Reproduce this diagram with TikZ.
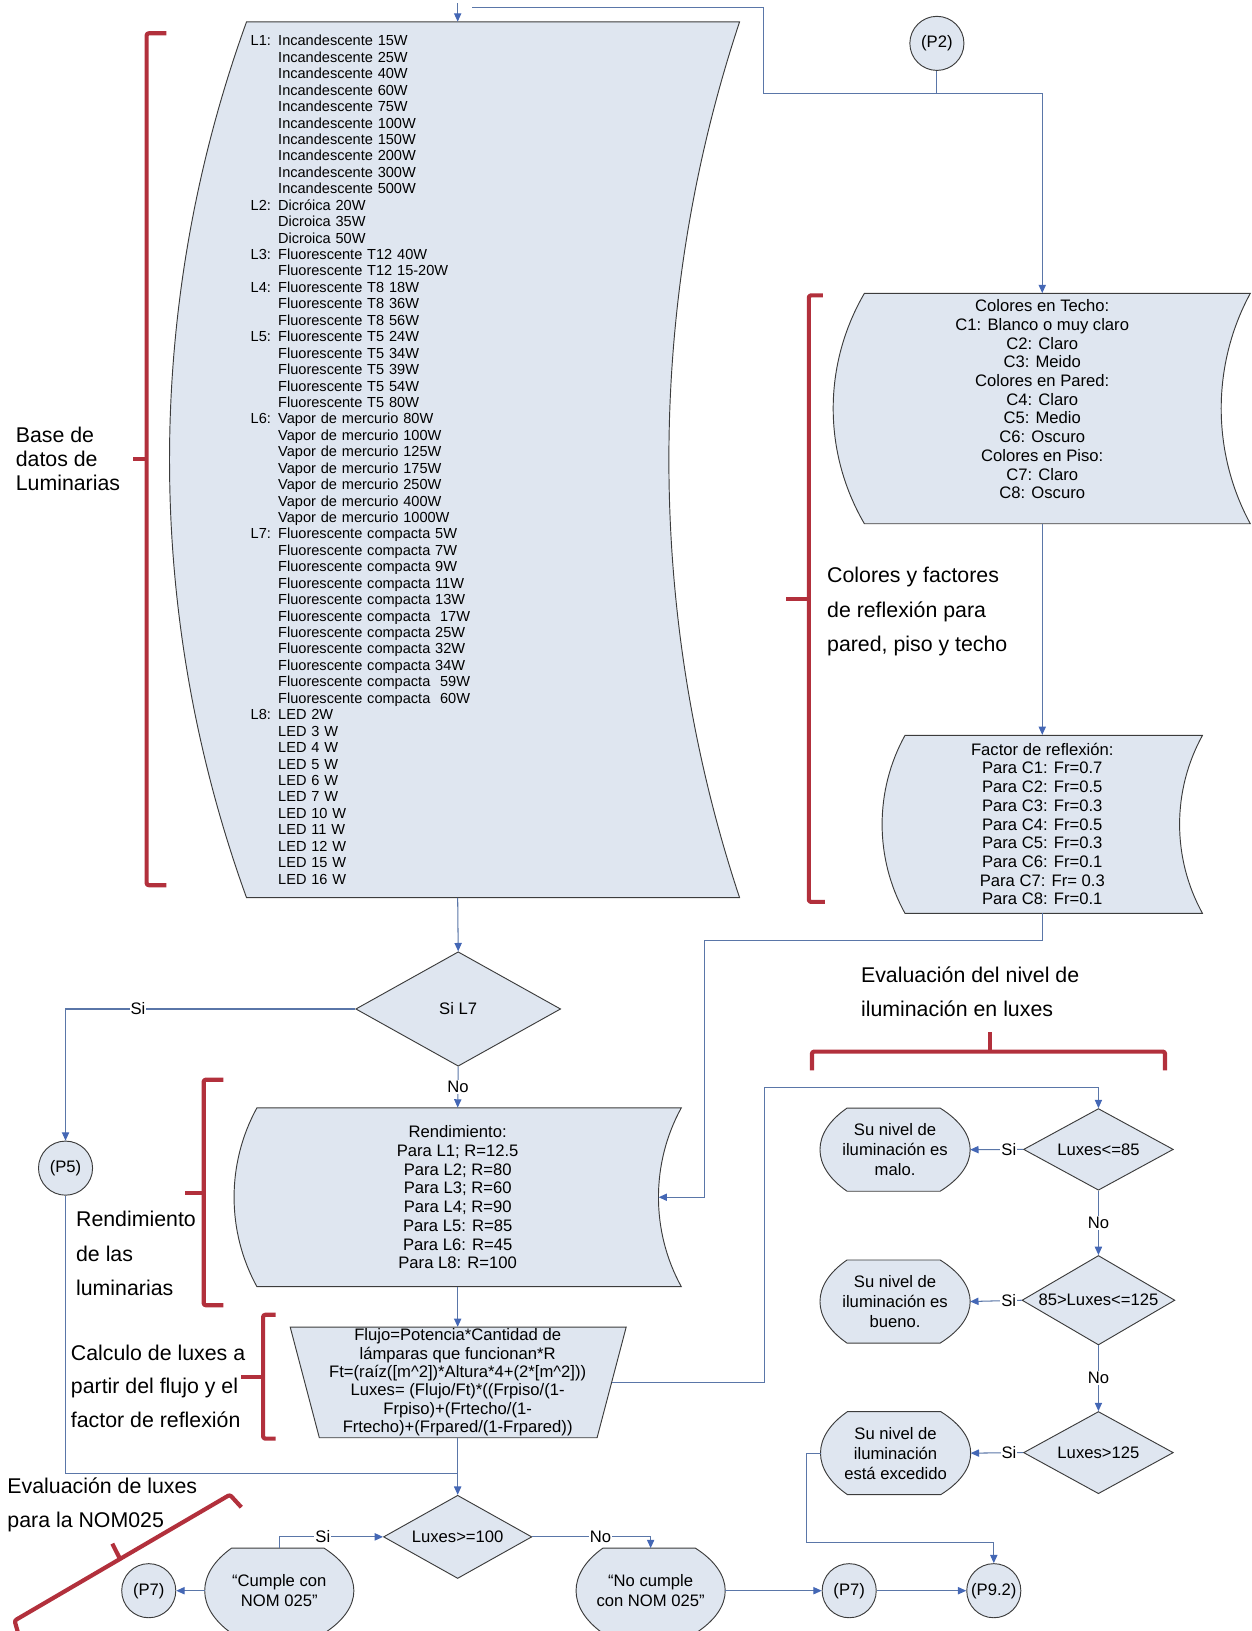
\documentclass[tikz,border=0pt]{standalone}
\usepackage{fontspec}
\setmainfont{Liberation Sans}
\usetikzlibrary{arrows.meta, shapes.geometric, calc, backgrounds}
\definecolor{boxfill}{HTML}{DFE6F0}
\definecolor{boxline}{HTML}{3C3C3C}
\definecolor{linkblue}{HTML}{5A76A8}
\definecolor{tipblue}{HTML}{4467B5}
\definecolor{brred}{HTML}{B2303C}

\newcommand{\lmpind}{\hphantom{L1: }}
% display outline round a named node, behind it
\newcommand{\dispshape}[1]{%
  \begin{pgfonlayer}{background}
  \draw[box] let \p1=(#1.north west), \p2=(#1.south east) in
    ({\x1+0.18*(\x2-\x1)},\y1) -- ({\x2-0.2*(\x2-\x1)},\y1)
    .. controls ({\x2+0.0667*(\x2-\x1)},{\y1+0.3*(\y2-\y1)}) and ({\x2+0.0667*(\x2-\x1)},{\y2-0.3*(\y2-\y1)}) .. ({\x2-0.2*(\x2-\x1)},\y2)
    -- ({\x1+0.18*(\x2-\x1)},\y2)
    .. controls ({\x1-0.06*(\x2-\x1)},{\y2-0.3*(\y2-\y1)}) and ({\x1-0.06*(\x2-\x1)},{\y1+0.3*(\y2-\y1)}) .. ({\x1+0.18*(\x2-\x1)},\y1) -- cycle;
  \end{pgfonlayer}}

\begin{document}
\begin{tikzpicture}[x=1pt, y=-1pt,
  box/.style={fill=boxfill, draw=boxline, line width=0.9pt},
  link/.style={draw=linkblue, line width=1pt},
  arr/.style={link, -{Triangle[length=8pt, width=7pt, color=tipblue]}},
  lbl/.style={fill=white, inner sep=1pt, font=\fontsize{16}{18}\selectfont},
  txt/.style={align=center, inner sep=0pt, font=\fontsize{16}{18}\selectfont},
  disp/.style={txt, font=\fontsize{16}{19.2}\selectfont, minimum width=144pt, minimum height=79.5pt},
  dec/.style={diamond, box, aspect=1.7, inner sep=0pt, font=\fontsize{16}{18}\selectfont},
  conn/.style={circle, box, minimum size=52pt, inner sep=0pt, font=\fontsize{16}{18}\selectfont},
  brace/.style={draw=brred, line width=4pt, rounded corners=2pt, line join=round},
  note/.style={align=left, anchor=west, inner sep=0pt},
]

% Page size
\useasboundingbox (0,0) rectangle (1203,1568);

% --- Bent boxes ---
\draw[box] (237,21) -- (711,21) .. controls (620.4,294) and (620.4,590) .. (711,863)
  -- (237,863) .. controls (138.3,590) and (138.3,294) .. (237,21) -- cycle;
\draw[box] (831,282) -- (1202,282) .. controls (1164.7,350.7) and (1164.7,434.8) .. (1202,503.5)
  -- (831,503.5) .. controls (791,434.8) and (791,350.7) .. (831,282) -- cycle;
\draw[box] (870,707) -- (1156,707) .. controls (1126.7,760) and (1126.7,825) .. (1156,878)
  -- (870,878) .. controls (840.7,825) and (840.7,760) .. (870,707) -- cycle;
\draw[box] (247,1065) -- (655,1065) .. controls (625.7,1118.3) and (625.7,1183.7) .. (655,1237)
  -- (247,1237) .. controls (217.7,1183.7) and (217.7,1118.3) .. (247,1065) -- cycle;
\draw[box] (279,1275.8) -- (602,1275.8) -- (574,1382.2) -- (307,1382.2) -- cycle;

% --- Lamp database ---
\node[txt, font=\fontsize{14}{15.8}\selectfont, align=left, text width=398pt, inner xsep=4pt, minimum height=842pt] (db) at (440,442) {%
L1: Incandescente 15W\\
\lmpind Incandescente 25W\\
\lmpind Incandescente 40W\\
\lmpind Incandescente 60W\\
\lmpind Incandescente 75W\\
\lmpind Incandescente 100W\\
\lmpind Incandescente 150W\\
\lmpind Incandescente 200W\\
\lmpind Incandescente 300W\\
\lmpind Incandescente 500W\\
L2: Dicróica 20W\\
\lmpind Dicroica 35W\\
\lmpind Dicroica 50W\\
L3: Fluorescente T12 40W\\
\lmpind Fluorescente T12 15-20W\\
L4: Fluorescente T8 18W\\
\lmpind Fluorescente T8 36W\\
\lmpind Fluorescente T8 56W\\
L5: Fluorescente T5 24W\\
\lmpind Fluorescente T5 34W\\
\lmpind Fluorescente T5 39W\\
\lmpind Fluorescente T5 54W\\
\lmpind Fluorescente T5 80W\\
L6: Vapor de mercurio 80W\\
\lmpind Vapor de mercurio 100W\\
\lmpind Vapor de mercurio 125W\\
\lmpind Vapor de mercurio 175W\\
\lmpind Vapor de mercurio 250W\\
\lmpind Vapor de mercurio 400W\\
\lmpind Vapor de mercurio 1000W\\
L7: Fluorescente compacta 5W\\
\lmpind Fluorescente compacta 7W\\
\lmpind Fluorescente compacta 9W\\
\lmpind Fluorescente compacta 11W\\
\lmpind Fluorescente compacta 13W\\
\lmpind Fluorescente compacta\ \ 17W\\
\lmpind Fluorescente compacta 25W\\
\lmpind Fluorescente compacta 32W\\
\lmpind Fluorescente compacta 34W\\
\lmpind Fluorescente compacta\ \ 59W\\
\lmpind Fluorescente compacta\ \ 60W\\
L8: LED 2W\\
\lmpind LED 3 W\\
\lmpind LED 4 W\\
\lmpind LED 5 W\\
\lmpind LED 6 W\\
\lmpind LED 7 W\\
\lmpind LED 10 W\\
\lmpind LED 11 W\\
\lmpind LED 12 W\\
\lmpind LED 15 W\\
\lmpind LED 16 W};

% --- Colours and reflection ---
\node[conn] (p2) at (900.7,41.7) {(P2)};
\node[txt, minimum width=342pt, minimum height=221.5pt] (col) at (1002,392.75) {Colores en Techo:\\C1: Blanco o muy claro\\C2: Claro\\C3: Meido\\Colores en Pared:\\C4: Claro\\C5: Medio\\C6: Oscuro\\Colores en Piso:\\C7: Claro\\C8: Oscuro\\\mbox{}};
\node[txt, minimum width=260pt, minimum height=171pt] (fac) at (1002,792.2) {Factor de reflexión:\\Para C1: Fr=0.7\\Para C2: Fr=0.5\\Para C3: Fr=0.3\\Para C4: Fr=0.5\\Para C5: Fr=0.3\\Para C6: Fr=0.1\\Para C7: Fr= 0.3\\Para C8: Fr=0.1};

% --- Left column ---
\node[dec, minimum width=197pt, minimum height=110pt] (sil7) at (440.5,970) {Si L7};
\node[conn] (p5) at (63,1123) {(P5)};
\node[txt, minimum width=386pt, minimum height=172pt] (rend) at (440,1151) {Rendimiento:\\Para L1; R=12.5\\Para L2; R=80\\Para L3; R=60\\Para L4; R=90\\Para L5: R=85\\Para L6: R=45\\Para L8: R=100};
\node[txt, font=\fontsize{16}{17.7}\selectfont, minimum width=296pt, minimum height=106.4pt] (flujo) at (440,1329) {Flujo=Potencia*Cantidad de\\lámparas que funcionan*R\\Ft=(raíz([m\textasciicircum2])*Altura*4+(2*[m\textasciicircum2]))\\Luxes= (Flujo/Ft)*((Frpiso/(1-\\Frpiso)+(Frtecho/(1-\\Frtecho)+(Frpared/(1-Frpared))};
\node[dec, minimum width=142.6pt, minimum height=80pt] (lx100) at (440,1477.5) {Luxes>=100};
\node[disp, minimum width=143pt, minimum height=81.5pt] (cumple) at (268.5,1529.25) {“Cumple con\\NOM 025”};
\node[disp, minimum width=143pt, minimum height=81.5pt] (nocumple) at (625.5,1529.25) {“No cumple\\con NOM 025”};
\node[conn] (p7a) at (143,1529.25) {(P7)};
\node[conn] (p7b) at (816.4,1529.25) {(P7)};
\node[conn] (p92) at (955.4,1529.25) {(P9.2)};

% --- Lux level checks ---
\node[dec, minimum width=144pt, minimum height=78.5pt] (lx85) at (1056,1105) {Luxes<=85};
\node[dec, minimum width=147pt, minimum height=86pt] (lx125) at (1056,1250) {85>Luxes<=125};
\node[dec, minimum width=144pt, minimum height=79pt] (lxmax) at (1056,1396.5) {Luxes>125};
\node[disp] (malo) at (860.5,1105.25) {Su nivel de\\iluminación es\\malo.};
\node[disp] (bueno) at (860.5,1251.25) {Su nivel de\\iluminación es\\bueno.};
\node[disp] (exced) at (861,1397) {Su nivel de\\iluminación\\está excedido};

\dispshape{cumple}
\dispshape{nocumple}
\dispshape{malo}
\dispshape{bueno}
\dispshape{exced}

% --- Connectors ---
\coordinate (dbin) at (440,3);
\coordinate (topin) at (454,7);
\coordinate (elb) at (734,89.7);
\coordinate (fr) at (677,904);
\coordinate (fl) at (735.4,1045.5);
\coordinate (jp) at (440,1417);
\coordinate (ex) at (775,1483);

\draw[arr] (dbin) -- (db.north);
\draw[arr] (topin) -| (elb) -| (col.north);
\draw[link] (p2.south) -- (p2.south |- elb);
\draw[arr] (col.south) -- (fac.north);
\draw[arr] (db.south) -- (sil7.north);
\draw[arr] (sil7.west) -| node[lbl, pos=0.375] (sia) {Si} (p5.north);
\draw[arr] (sil7.south) -- node[lbl] (noa) {No} (rend.north);
\draw[arr] (fac.south) |- (fr) |- (rend.east);
\draw[arr] (rend.south) -- (flujo.north);
\draw[arr] (flujo.east) -| (fl) -| (lx85.north);
\draw[link] (p5.south) |- (jp);
\draw[arr] (flujo.south) -- (lx100.north);
\draw[arr] (cumple.north) |- node[lbl, pos=0.71] (sib) {Si} (lx100.west);
\draw[arr] (lx100.east) -| node[lbl, pos=0.288] (nob) {No} (nocumple.north);
\draw[arr] (cumple.west) -- (p7a.east);
\draw[arr] (nocumple.east) -- (p7b.west);
\draw[arr] (p7b.east) -- (p92.west);
\draw[arr] (lx85.west) -- node[lbl, pos=0.27] (sic) {Si} (malo.east);
\draw[arr] (lx85.south) -- node[lbl] (noc) {No} (lx125.north);
\draw[arr] (lx125.west) -- node[lbl, pos=0.25] (sid) {Si} (bueno.east);
\draw[arr] (lx125.south) -- node[lbl] (nod) {No} (lxmax.north);
\draw[arr] (lxmax.west) -- node[lbl, pos=0.27] (sie) {Si} (exced.east);
\draw[arr] (exced.west) -| (ex) -| (p92.north);

% --- Brackets ---
\draw[brace] (160,32) -- (141,32) -- (141,851) -- (160,851);
\draw[brace] (141,441) -- (128,441);
\draw[brace] (791,284) -- (777.6,284) -- (777.6,867) -- (793,867);
\draw[brace] (777.6,576) -- (756,576);
\draw[brace] (214.7,1038) -- (195.8,1038) -- (195.8,1254.8) -- (214.7,1254.8);
\draw[brace] (195.8,1147) -- (178,1147);
\draw[brace] (265,1264) -- (253,1264) -- (253,1383) -- (265,1383);
\draw[brace] (253,1323.7) -- (232,1323.7);
\draw[brace] (780.6,1029) -- (780.6,1011) -- (1120,1011) -- (1120,1029);
\draw[brace] (952,1011) -- (952,992);
\draw[brace] (18,1572) -- (14,1558) -- (221,1437) -- (232,1449);
\draw[brace] (115.4,1498.7) -- (108,1484);

% --- Notes ---
\node[note, font=\fontsize{20.5}{23}\selectfont] (basenote) at (15,441) {Base de\\datos de\\Luminarias};
\node[note, font=\fontsize{20.5}{33.5}\selectfont] (colnote) at (795,588) {Colores y factores\\de reflexión para\\pared, piso y techo};
\node[note, font=\fontsize{20.5}{33.5}\selectfont] (rendnote) at (73,1205) {Rendimiento\\de las\\luminarias};
\node[note, font=\fontsize{20.5}{32}\selectfont] (calcnote) at (68,1332.6) {Calculo de luxes a\\partir del flujo y el\\factor de reflexión};
\node[note, font=\fontsize{20.5}{32.5}\selectfont] (evalnote) at (827.6,953.75) {Evaluación del nivel de\\iluminación en luxes};
\node[note, font=\fontsize{20.5}{33}\selectfont] (nomnote) at (7,1446.5) {Evaluación de luxes\\para la NOM025};

\end{tikzpicture}
\end{document}
